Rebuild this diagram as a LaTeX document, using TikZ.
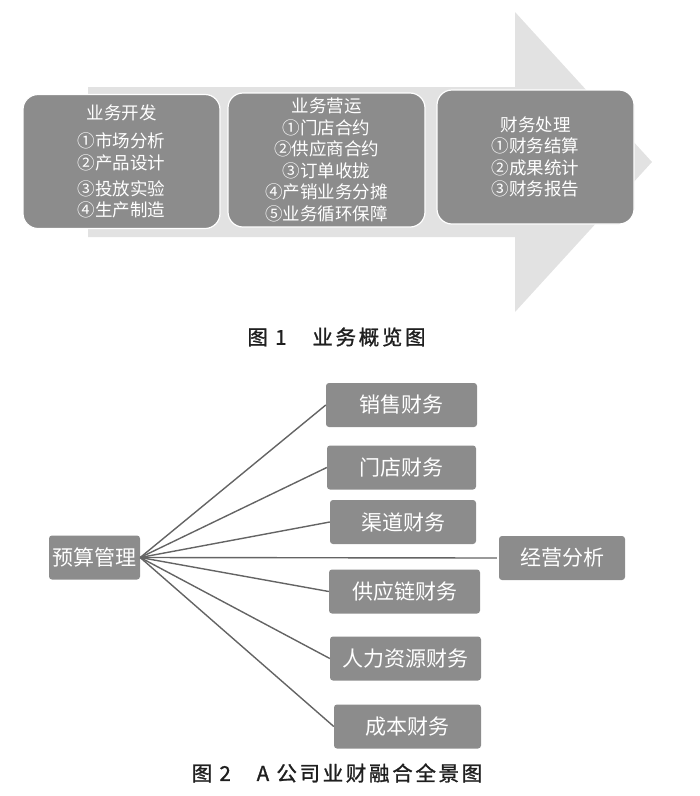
\documentclass[tikz,border=0pt]{standalone}
\usepackage{fontspec}
\setmainfont{Noto Sans CJK SC}
\newfontfamily\capfont[LetterSpace=13,FakeBold=1.2]{Noto Sans CJK SC}
\usepackage{tikz}
\definecolor{arrowgray}{RGB}{226,226,226}
\definecolor{boxgray}{RGB}{140,140,140}
\definecolor{linegray}{RGB}{100,100,100}

\begin{document}
\begin{tikzpicture}[x=1pt,y=-1pt,
  stage/.style={draw=white,line width=1.2pt,fill=boxgray,rounded corners=15pt,
    minimum width=197pt,minimum height=134pt,text=white,align=center,inner sep=0pt,
    font=\fontsize{17.5}{21.5}\selectfont},
  item/.style={fill=boxgray,rounded corners=3pt,minimum height=44pt,text=white,
    inner sep=0pt,font=\fontsize{21}{24}\selectfont},
  link/.style={draw=linegray,line width=1.4pt},
  caption/.style={text=black!88,font=\capfont\fontsize{20.5}{24}\selectfont}]
\useasboundingbox (0,0) rectangle (700,796);

\fill[arrowgray] (88,87) -- (515,87) -- (515,12) -- (652,162) -- (515,312) -- (515,237) -- (88,237) -- cycle;
\node[stage] (dev) at (121.5,161.5) {业务开发\\[6.5pt]①市场分析\\②产品设计\\[4.5pt]③投放实验\\④生产制造};
\node[stage] (ops) at (326.5,160) {业务营运\\①门店合约\\②供应商合约\\③订单收拢\\④产销业务分摊\\⑤业务循环保障};
\node[stage] (fin) at (535.5,157) {财务处理\\①财务结算\\②成果统计\\③财务报告};
\node[caption] (cap1) at (336.5,337) {图 1　业务概览图};

\node[item,minimum width=91pt] (budget) at (94.5,557.5) {预算管理};
\node[item,minimum width=151pt] (sales) at (401.5,405) {销售财务};
\node[item,minimum width=149pt] (store) at (401.5,467.5) {门店财务};
\node[item,minimum width=146pt] (channel) at (403,522) {渠道财务};
\node[item,minimum width=126pt] (analysis) at (562,558) {经营分析};
\node[item,minimum width=151pt] (supply) at (404.5,591.5) {供应链财务};
\node[item,minimum width=151pt] (hr) at (405.5,658.5) {人力资源财务};
\node[item,minimum width=147pt] (cost) at (407.5,726.5) {成本财务};
\foreach \t in {sales,store,channel,supply,hr,cost}
  \draw[link] (budget.east) -- (\t.west);
\draw[link] (budget.east) -- ([xshift=-2pt]analysis.west);
\node[caption] (cap2) at (337,773) {图 2　A 公司业财融合全景图};
\end{tikzpicture}
\end{document}
